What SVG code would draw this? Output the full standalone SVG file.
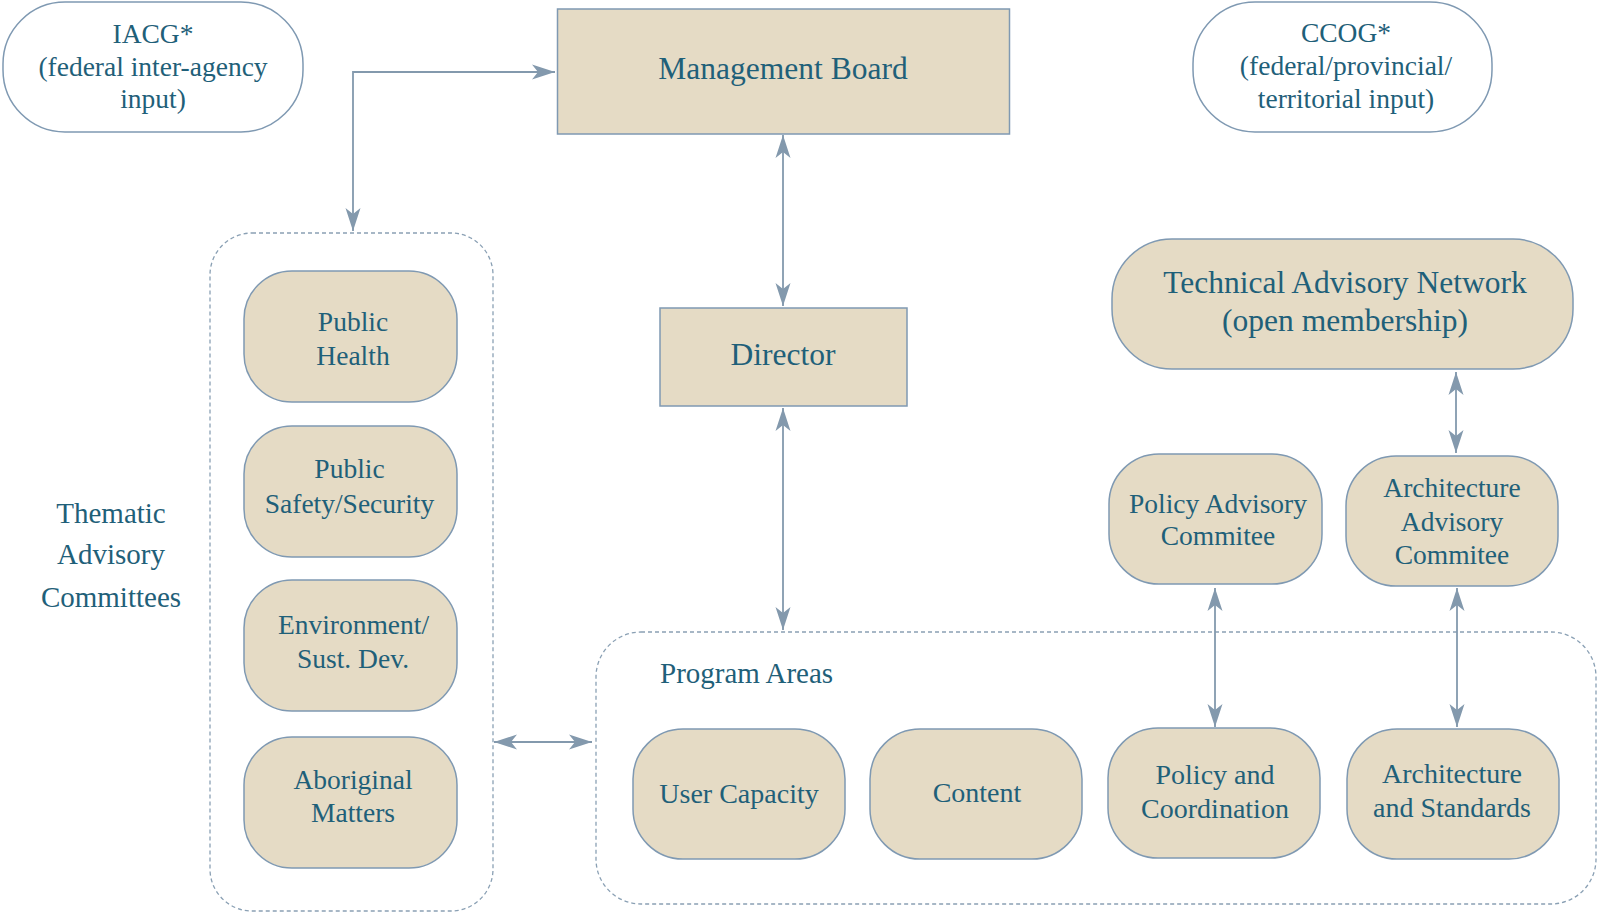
<svg xmlns="http://www.w3.org/2000/svg" width="1598" height="915" viewBox="0 0 1598 915">
  <style>
    .box { fill: #e5dbc5; stroke: #7f99b2; stroke-width: 1.5; }
    .outline { fill: #ffffff; stroke: #7f99b2; stroke-width: 1.5; }
    .group { fill: none; stroke: #8aa0b4; stroke-width: 1.3; stroke-dasharray: 4 3; }
    .lbl { font-family: "Liberation Serif", "Times New Roman", serif; fill: #1f6079; text-anchor: middle; }
    .s27 { font-size: 27.5px; }
    .s28 { font-size: 28px; }
    .s29 { font-size: 29px; }
    .s31 { font-size: 31.5px; }
    .link { fill: none; stroke: #8399ad; stroke-width: 1.8; marker-start: url(#ah); marker-end: url(#ah); }
  </style>
  <defs>
    <marker id="ah" viewBox="-26 -9 28 18" refX="0" refY="0" markerWidth="28" markerHeight="18" markerUnits="userSpaceOnUse" orient="auto-start-reverse">
      <path d="M0,0 L-23,-7.5 L-17,0 L-23,7.5 Z" fill="#8399ad"/>
    </marker>
  </defs>

  <rect width="1598" height="915" fill="#ffffff"/>

  <!-- dashed grouping frames -->
  <g id="thematic-frame">
    <rect class="group" x="210" y="233" width="283" height="678" rx="42"/>
    <text class="lbl s29" x="111" y="523">Thematic</text>
    <text class="lbl s29" x="111" y="564">Advisory</text>
    <text class="lbl s29" x="111" y="607">Committees</text>
  </g>
  <g id="program-areas-frame">
    <rect class="group" x="596" y="632" width="1000" height="272" rx="45"/>
    <text class="lbl s29" x="660" y="683" style="text-anchor:start">Program Areas</text>
  </g>

  <!-- connectors -->
  <g id="connectors">
    <path class="link" d="M353,231 V72 H555"/>
    <path class="link" d="M783,135 V306"/>
    <path class="link" d="M783,408 V630"/>
    <path class="link" d="M1456,372 V453"/>
    <path class="link" d="M1215,588 V727"/>
    <path class="link" d="M1457,588 V727"/>
    <path class="link" d="M494,742 H592"/>
  </g>

  <!-- governance -->
  <g id="iacg">
    <rect class="outline" x="3" y="2" width="300" height="130" rx="62"/>
    <text class="lbl s27" x="153" y="43">IACG*</text>
    <text class="lbl s27" x="153" y="76">(federal inter-agency</text>
    <text class="lbl s27" x="153" y="108">input)</text>
  </g>
  <g id="management-board">
    <rect class="box" x="557.5" y="9" width="452" height="125"/>
    <text class="lbl s31" x="783" y="79">Management Board</text>
  </g>
  <g id="ccog">
    <rect class="outline" x="1193" y="2" width="299" height="130" rx="62"/>
    <text class="lbl s27" x="1346" y="42">CCOG*</text>
    <text class="lbl s27" x="1346" y="75">(federal/provincial/</text>
    <text class="lbl s27" x="1346" y="108">territorial input)</text>
  </g>
  <g id="director">
    <rect class="box" x="660" y="308" width="247" height="98"/>
    <text class="lbl s31" x="783" y="365">Director</text>
  </g>
  <g id="technical-advisory-network">
    <rect class="box" x="1112" y="239" width="461" height="130" rx="60"/>
    <text class="lbl s31" x="1345" y="293">Technical Advisory Network</text>
    <text class="lbl s31" x="1345" y="331">(open membership)</text>
  </g>
  <g id="policy-advisory-committee">
    <rect class="box" x="1109" y="454" width="213" height="130" rx="50"/>
    <text class="lbl s27" x="1218" y="513">Policy Advisory</text>
    <text class="lbl s27" x="1218" y="545">Commitee</text>
  </g>
  <g id="architecture-advisory-committee">
    <rect class="box" x="1346" y="456" width="212" height="130" rx="50"/>
    <text class="lbl s27" x="1452" y="497">Architecture</text>
    <text class="lbl s27" x="1452" y="531">Advisory</text>
    <text class="lbl s27" x="1452" y="564">Commitee</text>
  </g>

  <!-- thematic advisory committees -->
  <g id="public-health">
    <rect class="box" x="244" y="271" width="213" height="131" rx="48"/>
    <text class="lbl s27" x="353" y="331">Public</text>
    <text class="lbl s27" x="353" y="365">Health</text>
  </g>
  <g id="public-safety">
    <rect class="box" x="244" y="426" width="213" height="131" rx="48"/>
    <text class="lbl s27" x="349.5" y="478">Public</text>
    <text class="lbl s27" x="349.5" y="513">Safety/Security</text>
  </g>
  <g id="environment">
    <rect class="box" x="244" y="580" width="213" height="131" rx="48"/>
    <text class="lbl s27" x="353.5" y="634">Environment/</text>
    <text class="lbl s27" x="353" y="668">Sust. Dev.</text>
  </g>
  <g id="aboriginal-matters">
    <rect class="box" x="244" y="737" width="213" height="131" rx="48"/>
    <text class="lbl s27" x="353" y="789">Aboriginal</text>
    <text class="lbl s27" x="353" y="822">Matters</text>
  </g>

  <!-- program areas -->
  <g id="user-capacity">
    <rect class="box" x="633" y="729" width="212" height="130" rx="50"/>
    <text class="lbl s28" x="739" y="803">User Capacity</text>
  </g>
  <g id="content">
    <rect class="box" x="870" y="729" width="212" height="130" rx="50"/>
    <text class="lbl s28" x="977" y="802">Content</text>
  </g>
  <g id="policy-coordination">
    <rect class="box" x="1108" y="728" width="212" height="130" rx="50"/>
    <text class="lbl s28" x="1215" y="784">Policy and</text>
    <text class="lbl s28" x="1215" y="818">Coordination</text>
  </g>
  <g id="architecture-standards">
    <rect class="box" x="1347" y="729" width="212" height="130" rx="50"/>
    <text class="lbl s28" x="1452" y="783">Architecture</text>
    <text class="lbl s28" x="1452" y="817">and Standards</text>
  </g>
</svg>
